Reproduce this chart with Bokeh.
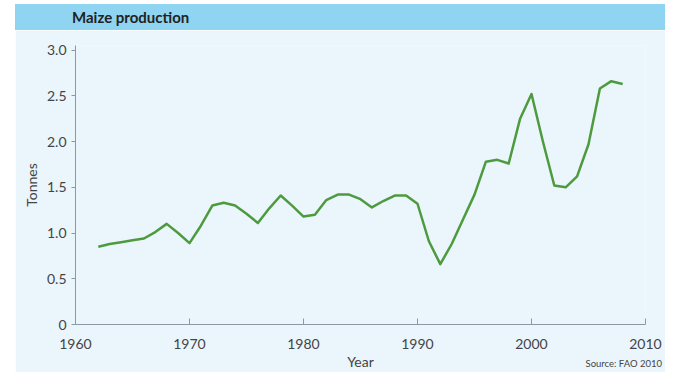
from bokeh.plotting import figure
from bokeh.models import FixedTicker, Range1d, PrintfTickFormatter, Div
from bokeh.layouts import column
from bokeh.embed import file_html
from bokeh.resources import INLINE

years = [1962, 1963, 1964, 1965, 1966, 1967, 1968, 1969, 1970, 1971, 1972, 1973,
         1974, 1975, 1976, 1977, 1978, 1979, 1980, 1981, 1982, 1983, 1984, 1985,
         1986, 1987, 1988, 1989, 1990, 1991, 1992, 1993, 1994, 1995, 1996, 1997,
         1998, 1999, 2000, 2001, 2002, 2003, 2004, 2005, 2006, 2007, 2008]
tonnes = [0.85, 0.88, 0.90, 0.92, 0.94, 1.01, 1.10, 1.00, 0.89, 1.08, 1.30, 1.33,
          1.30, 1.21, 1.11, 1.27, 1.41, 1.30, 1.18, 1.20, 1.36, 1.42, 1.42, 1.37,
          1.28, 1.35, 1.41, 1.41, 1.32, 0.91, 0.66, 0.88, 1.15, 1.42, 1.78, 1.80,
          1.76, 2.25, 2.52, 2.00, 1.52, 1.50, 1.62, 1.97, 2.58, 2.66, 2.63]
x_ticks = [1960, 1970, 1980, 1990, 2000, 2010]
y_ticks = [0, 0.5, 1.0, 1.5, 2.0, 2.5, 3.0]

FONT = "Lato"
BG = "#eaf6fc"
HEAD = "#8fd4f1"
TXT = "#444444"

header = Div(
    text=('<div style="width:650px;height:26px;box-sizing:border-box;'
          'background:%s;padding-left:57px;line-height:26px;font-family:Lato;'
          'font-weight:bold;font-size:15px;color:#222222;margin:0;">'
          'Maize production</div>') % HEAD,
    width=650, height=26, margin=(4, 0, 0, 15))

p = figure(width=650, height=342, output_backend="svg", toolbar_location=None,
           x_range=Range1d(1960, 2010), y_range=Range1d(0, 3.05),
           min_border_left=60, min_border_right=20, min_border_top=15,
           min_border_bottom=0, margin=(0, 0, 0, 15))
p.background_fill_color = BG
p.border_fill_color = BG
p.outline_line_color = None
p.grid.visible = False

p.line(years, tonnes, line_color="#4e9a3e", line_width=2.5, line_join="round")

for ax in (p.xaxis[0], p.yaxis[0]):
    ax.axis_line_color = "#8a9aa4"
    ax.major_tick_line_color = "#8a9aa4"
    ax.minor_tick_line_color = None
    ax.major_label_text_font = FONT
    ax.major_label_text_font_size = "14px"
    ax.major_label_text_color = TXT
    ax.axis_label_text_font = FONT
    ax.axis_label_text_font_size = "14px"
    ax.axis_label_text_font_style = "normal"
    ax.axis_label_text_color = TXT

p.xaxis.ticker = FixedTicker(ticks=x_ticks)
p.xaxis.major_tick_in = 6
p.xaxis.major_tick_out = 0
p.xaxis.major_label_standoff = 14
p.xaxis.axis_label = "Year"
p.xaxis.axis_label_standoff = 1

p.yaxis.ticker = FixedTicker(ticks=y_ticks)
p.yaxis.formatter = PrintfTickFormatter(format="%.1f")
p.yaxis.major_tick_in = 0
p.yaxis.major_tick_out = 4
p.yaxis.major_label_standoff = 5
p.yaxis.major_label_overrides = {0: "0"}
p.yaxis.axis_label = "Tonnes"
p.yaxis.axis_label_standoff = 4

source = Div(
    text=('<div style="width:647px;height:14px;text-align:right;line-height:14px;'
          'font-family:Lato;font-size:9.5px;color:%s;margin:0;">'
          'Source: FAO 2010</div>') % TXT,
    width=647, height=14, margin=(-17, 0, 0, 15))

layout = column(header, p, source, spacing=0)
open("out.html", "w").write(file_html(layout, INLINE))
